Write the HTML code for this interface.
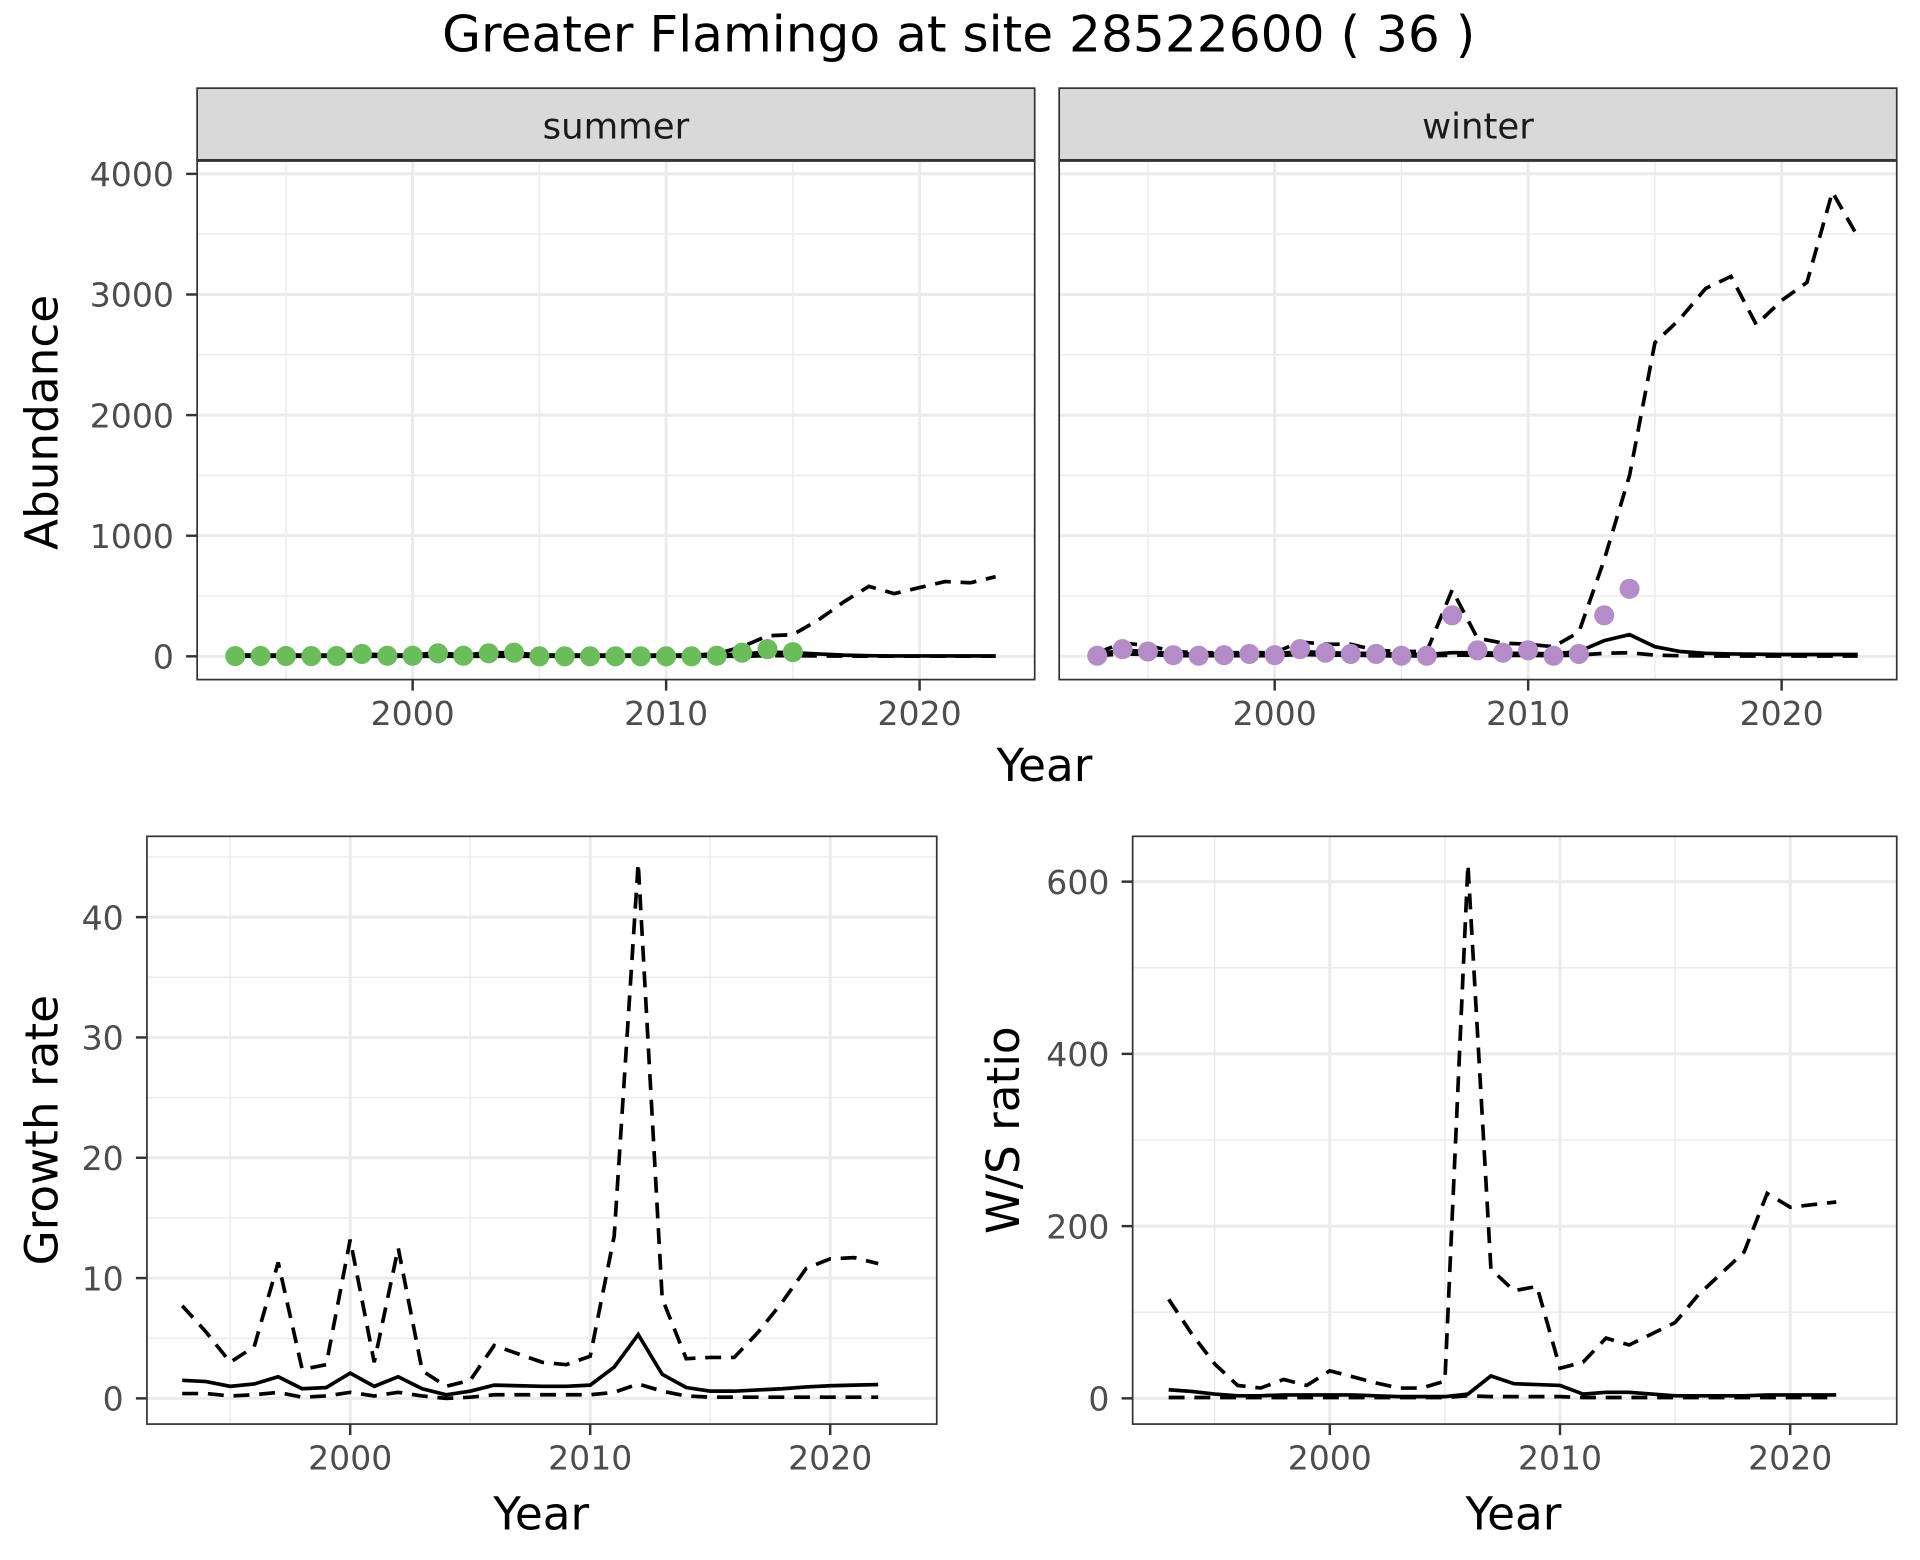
<!DOCTYPE html>
<html><head><meta charset="utf-8"><style>
html,body{margin:0;padding:0;background:#fff}
svg{display:block}
text{font-family:"DejaVu Sans","Liberation Sans",sans-serif}
</style></head><body>
<svg id="chart" width="1920" height="1560" viewBox="0 0 1568 1274" preserveAspectRatio="none" xmlns="http://www.w3.org/2000/svg">
<rect width="1568" height="1274" fill="#fff"/>
<text x="783" y="42" text-anchor="middle" style="font-size:41px" fill="#000">Greater Flamingo at site 28522600 ( 36 )</text>
<g id="g"></g>
</svg>
<script>
const years1 = [1993,1994,1995,1996,1997,1998,1999,2000,2001,2002,2003,2004,2005,2006,2007,2008,2009,2010,2011,2012,2013,2014,2015,2016,2017,2018,2019,2020,2021,2022,2023];
const summerPoints = [2,3,3,2,3,20,5,5,25,5,25,30,0,0,0,0,0,0,0,5,30,60,35];
const summerMid = [5,5,5,5,5,10,5,5,15,5,15,15,5,5,5,5,5,5,5,10,20,35,30,20,10,5,3,3,3,3,3];
const summerHi = [10,10,10,10,10,20,10,10,30,10,30,30,10,10,10,10,10,10,10,20,80,170,180,300,450,580,520,570,620,610,660];
const summerLo = [0,0,0,0,0,0,0,0,0,0,0,0,0,0,0,0,0,0,0,0,0,5,5,3,2,1,1,1,1,1,1];
const winterPoints = [5,60,40,10,5,10,20,10,60,30,20,20,5,5,340,50,30,50,5,20,340,560];
const winterMid = [20,50,40,20,20,20,20,20,40,30,25,25,15,15,30,30,25,25,20,40,130,180,80,40,25,20,18,15,15,15,15];
const winterHi = [30,110,90,40,30,30,30,30,120,100,100,50,40,40,550,150,110,100,80,200,800,1500,2600,2800,3050,3150,2750,2950,3100,3850,3480];
const winterLo = [5,20,15,5,5,5,5,5,15,10,10,5,3,3,10,10,8,8,5,10,25,30,10,5,3,2,2,2,2,2,2];
const years2 = [1993,1994,1995,1996,1997,1998,1999,2000,2001,2002,2003,2004,2005,2006,2007,2008,2009,2010,2011,2012,2013,2014,2015,2016,2017,2018,2019,2020,2021,2022];
const growthHi = [7.7,5.5,3,4.3,11.3,2.4,2.8,13.2,3,12.5,2.3,1,1.5,4.4,3.7,3,2.8,3.5,13.5,44.5,8.3,3.3,3.4,3.4,5.5,8,10.8,11.6,11.7,11.2];
const growthMid = [1.5,1.4,1.0,1.2,1.8,0.8,0.9,2.1,1.0,1.8,0.8,0.3,0.6,1.1,1.05,1.0,1.0,1.1,2.6,5.3,2.0,0.9,0.6,0.6,0.7,0.8,0.95,1.05,1.1,1.15];
const growthLo = [0.4,0.4,0.2,0.3,0.5,0.1,0.2,0.5,0.2,0.5,0.2,0,0.1,0.3,0.3,0.3,0.3,0.3,0.5,1.2,0.6,0.2,0.1,0.1,0.1,0.1,0.1,0.1,0.1,0.1];
const ratioHi = [115,75,40,15,12,22,15,32,25,18,12,12,20,620,150,125,130,35,42,70,62,75,88,120,145,170,238,222,225,228];
const ratioMid = [10,8,5,3,3,4,4,4,4,3,2,2,2,5,26,17,16,15,5,7,7,5,3,3,3,3,4,4,4,4];
const ratioLo = [1,1,1,1,1,1,1,1,1,1,1,1,1,3,2,2,2,2,1,1,1,1,1,1,1,1,1,1,1,1];
const xTicks = [2000,2010,2020];
const abTicks = [0,1000,2000,3000,4000];
const grTicks = [0,10,20,30,40];
const raTicks = [0,200,400,600];

const NS='http://www.w3.org/2000/svg';
const G=document.getElementById('g');
function mk(tag,at,parent){const e=document.createElementNS(NS,tag);for(const k in at)e.setAttribute(k,at[k]);(parent||G).appendChild(e);return e;}
function lin(d0,d1,r0,r1){return v=>r0+(v-d0)*(r1-r0)/(d1-d0);}
const TICK='font-size:27px;fill:#4d4d4d';

function panel(o){
  const g=mk('g',{});
  
  
  const x=lin(2000,2010,o.x2000,o.x2010), y=lin(0,o.yRefV,o.y0,o.yRefP);
  mk('rect',{x:o.L,y:o.T,width:o.R-o.L,height:o.B-o.T,fill:'#fff'},g);
  const yStep=o.yt[1]-o.yt[0];
  for(let i=0;i<o.yt.length+1;i++){const v=o.yt[0]+yStep*(i+0.5);const py=y(v);if(py>o.T&&py<o.B)mk('line',{x1:o.L,x2:o.R,y1:py,y2:py,stroke:'#ebebeb','stroke-width':1.2},g);}
  for(const v of [1995,2005,2015]){mk('line',{x1:x(v),x2:x(v),y1:o.T,y2:o.B,stroke:'#ebebeb','stroke-width':1.2},g);}
  for(const v of o.yt){mk('line',{x1:o.L,x2:o.R,y1:y(v),y2:y(v),stroke:'#ebebeb','stroke-width':2.4},g);}
  for(const v of xTicks){mk('line',{x1:x(v),x2:x(v),y1:o.T,y2:o.B,stroke:'#ebebeb','stroke-width':2.4},g);}
  const line=(ys,vals,dash,nm)=>{const p=mk('polyline',{points:vals.map((v,i)=>x(ys[i])+','+y(v)).join(' '),fill:'none',stroke:'#000','stroke-width':3,'stroke-dasharray':dash?'13,8':'none'},g);};
  line(o.years,o.hi,true,'upper-bound-line');line(o.years,o.lo,true,'lower-bound-line');line(o.years,o.mid,false,'estimate-line');
  if(o.pts){o.pts.forEach((v,i)=>{const c=mk('circle',{cx:x(o.years[i]),cy:y(v),r:8.2,fill:o.col},g);});}
  mk('rect',{x:o.L,y:o.T,width:o.R-o.L,height:o.B-o.T,fill:'none',stroke:'#333','stroke-width':1.4},g);
  for(const v of xTicks){mk('line',{x1:x(v),x2:x(v),y1:o.B,y2:o.B+9,stroke:'#333','stroke-width':2},g);const t=mk('text',{x:x(v),y:o.B+37,'text-anchor':'middle',style:TICK},g);t.textContent=v;}
  if(o.showY){for(const v of o.yt){mk('line',{x1:o.L-9,x2:o.L,y1:y(v),y2:y(v),stroke:'#333','stroke-width':2},g);const t=mk('text',{x:o.L-19,y:y(v)+10,'text-anchor':'end',style:TICK},g);t.textContent=v;}}
  if(o.strip){mk('rect',{x:o.L,y:72,width:o.R-o.L,height:o.T-72,fill:'#d9d9d9',stroke:'#333','stroke-width':1.4},g);mk('line',{x1:o.L,x2:o.R,y1:o.T,y2:o.T,stroke:'#333','stroke-width':2.4},g);const t=mk('text',{x:(o.L+o.R)/2,y:113,'text-anchor':'middle',style:'font-size:29px;fill:#1a1a1a'},g);t.textContent=o.strip;}
}
panel({name:'summer-panel',L:161,R:845,T:131,B:555,x2000:337,x2010:544,y0:536,yRefV:4000,yRefP:142,yt:abTicks,years:years1,hi:summerHi,mid:summerMid,lo:summerLo,pts:summerPoints,col:'#6abd5a',showY:true,strip:'summer'});
panel({name:'winter-panel',L:865,R:1549,T:131,B:555,x2000:1041,x2010:1248,y0:536,yRefV:4000,yRefP:142,yt:abTicks,years:years1,hi:winterHi,mid:winterMid,lo:winterLo,pts:winterPoints,col:'#b48cc7',showY:false,strip:'winter'});
panel({name:'growth-panel',L:120,R:765,T:683,B:1163,x2000:286,x2010:482,y0:1142,yRefV:40,yRefP:749,yt:grTicks,years:years2,hi:growthHi,mid:growthMid,lo:growthLo,showY:true});
panel({name:'ratio-panel',L:925,R:1549,T:683,B:1163,x2000:1086,x2010:1274,y0:1142,yRefV:600,yRefP:720,yt:raTicks,years:years2,hi:ratioHi,mid:ratioMid,lo:ratioLo,showY:true});
function label(txt,x,y,rot,nm){const t=mk('text',{x:x,y:y,'text-anchor':'middle',style:'font-size:37px;fill:#000',transform:rot?`rotate(-90 ${x} ${y})`:''});t.textContent=txt;}
label('Year',853,638,false,'x-axis-title-top');
label('Year',442,1249,false,'x-axis-title-growth');
label('Year',1236,1249,false,'x-axis-title-ratio');
label('Abundance',47,345,true,'y-axis-title-abundance');
label('Growth rate',47,923,true,'y-axis-title-growth');
label('W/S ratio',832,923,true,'y-axis-title-ratio');
</script>
</body></html>
